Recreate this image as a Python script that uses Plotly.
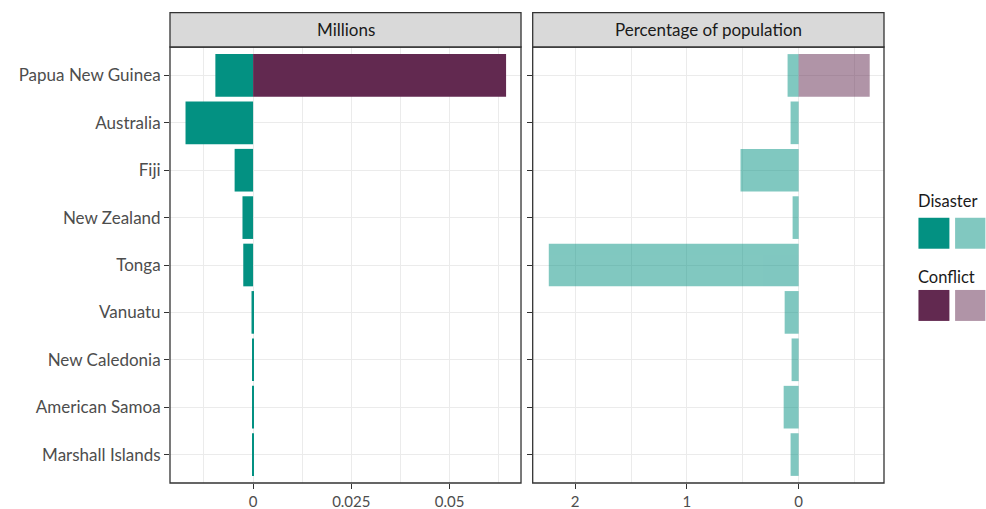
import plotly.graph_objects as go

countries = ["Papua New Guinea", "Australia", "Fiji", "New Zealand", "Tonga",
             "Vanuatu", "New Caledonia", "American Samoa", "Marshall Islands"]
disaster_millions = [0.0096, 0.0172, 0.0047, 0.0027, 0.0025, 0.0004, 0.0002, 0.0002, 0.0002]
conflict_millions = [0.0644, 0, 0, 0, 0, 0, 0, 0, 0]
disaster_pct = [0.099, 0.072, 0.52, 0.054, 2.236, 0.125, 0.063, 0.134, 0.072]
conflict_pct = [0.636, 0, 0, 0, 0, 0, 0, 0, 0]

left_ticks = [0, 0.025, 0.05]
left_ticktext = ["0", "0.025", "0.05"]
right_ticks = [-2, -1, 0]
right_ticktext = ["2", "1", "0"]
facet_titles = ["Millions", "Percentage of population"]
legend_labels = ["Disaster", "Conflict"]

TEAL = "#039182"
PURPLE = "#622950"
FONT = "Lato"

fig = go.Figure()
fig.add_bar(y=countries, x=[-v for v in disaster_millions], orientation="h",
            marker=dict(color=TEAL, line=dict(width=0)), width=0.9,
            xaxis="x", yaxis="y", showlegend=False)
fig.add_bar(y=countries, x=conflict_millions, orientation="h",
            marker=dict(color=PURPLE, line=dict(width=0)), width=0.9,
            xaxis="x", yaxis="y", showlegend=False)
fig.add_bar(y=countries, x=[-v for v in disaster_pct], orientation="h",
            marker=dict(color=TEAL, line=dict(width=0)), opacity=0.5, width=0.9,
            xaxis="x2", yaxis="y2", showlegend=False)
fig.add_bar(y=countries, x=conflict_pct, orientation="h",
            marker=dict(color=PURPLE, line=dict(width=0)), opacity=0.5, width=0.9,
            xaxis="x2", yaxis="y2", showlegend=False)

W, H = 986, 509
ml, mr, mt, mb = 169.5, 101.5, 46.7, 25.7
pw = W - ml - mr
ph = H - mt - mb
d1 = (521 - ml) / pw
d2 = (532.7 - ml) / pw

grid = "#EBEBEB"
axcommon = dict(showline=False, zeroline=False, gridcolor=grid, gridwidth=1.1,
                automargin=False,
                ticks="outside", ticklen=5, tickcolor="#333333", tickwidth=1.3,
                tickfont=dict(family=FONT, size=15, color="#4D4D4D"))

fig.update_layout(
    width=W, height=H, barmode="overlay",
    margin=dict(l=ml, r=mr, t=mt, b=mb, autoexpand=False),
    plot_bgcolor="white", paper_bgcolor="white",
    font=dict(family=FONT),
    xaxis=dict(domain=[0, d1], range=[-0.02115, 0.0682], tickmode="array",
               tickvals=left_ticks, ticktext=left_ticktext,
               minor=dict(dtick=0.0125, tick0=0, showgrid=True, gridcolor=grid, gridwidth=0.55, ticks=""),
               anchor="y", **axcommon),
    xaxis2=dict(domain=[d2, 1], range=[-2.38, 0.764], tickmode="array",
                tickvals=right_ticks, ticktext=right_ticktext,
                minor=dict(dtick=0.5, tick0=0, showgrid=True, gridcolor=grid, gridwidth=0.55, ticks=""),
                anchor="y2", **axcommon),
    yaxis=dict(domain=[0, 1], range=[8.6, -0.6], type="category",
               categoryorder="array", categoryarray=countries, anchor="x",
               showline=False, zeroline=False, gridcolor=grid, gridwidth=1.1,
               automargin=False,
               ticks="outside", ticklen=5, tickcolor="#333333", tickwidth=1.3,
               tickfont=dict(family=FONT, size=17, color="#4D4D4D")),
    yaxis2=dict(domain=[0, 1], range=[8.6, -0.6], type="category",
                categoryorder="array", categoryarray=countries, anchor="x2",
                showline=False, zeroline=False, gridcolor=grid, gridwidth=1.1,
                automargin=False,
                ticks="outside", ticklen=5, tickcolor="#333333", tickwidth=1.3,
                showticklabels=False),
)

strip_top = 1 + (mt - 12.3) / ph
shapes = []
for (x0, x1) in [(0, d1), (d2, 1)]:
    shapes.append(dict(type="rect", xref="paper", yref="paper", x0=x0, x1=x1, y0=0, y1=1,
                       line=dict(color="#333333", width=1.3), fillcolor="rgba(0,0,0,0)", layer="above"))
    shapes.append(dict(type="rect", xref="paper", yref="paper", x0=x0, x1=x1, y0=1, y1=strip_top,
                       line=dict(color="#333333", width=1.3), fillcolor="#D9D9D9", layer="above"))

annotations = []
for (x0, x1), title in zip([(0, d1), (d2, 1)], facet_titles):
    annotations.append(dict(xref="paper", yref="paper", x=(x0 + x1) / 2, y=(1 + strip_top) / 2,
                            text=title, showarrow=False, xanchor="center", yanchor="middle",
                            font=dict(family=FONT, size=17, color="#1A1A1A")))

def px_x(x):
    return (x - ml) / pw

def px_y(y):
    return 1 - (y - mt) / ph

legend_pos = [(201, 217.7), (277, 290)]
for label, col, (ty, sy) in zip(legend_labels, [TEAL, PURPLE], legend_pos):
    annotations.append(dict(xref="paper", yref="paper", x=px_x(917), y=px_y(ty), text=label,
                            showarrow=False, xanchor="left", yanchor="middle",
                            font=dict(family=FONT, size=16.5, color="#1A1A1A")))
    shapes.append(dict(type="rect", xref="paper", yref="paper",
                       x0=px_x(919), x1=px_x(950), y0=px_y(sy + 31), y1=px_y(sy),
                       line=dict(width=0), fillcolor=col))
    shapes.append(dict(type="rect", xref="paper", yref="paper",
                       x0=px_x(955.7), x1=px_x(986), y0=px_y(sy + 31), y1=px_y(sy),
                       line=dict(width=0), fillcolor=col, opacity=0.5))

fig.update_layout(shapes=shapes, annotations=annotations)
fig.write_html("out.html", config={"displayModeBar": False},
               post_script="document.body.style.margin='0';")
